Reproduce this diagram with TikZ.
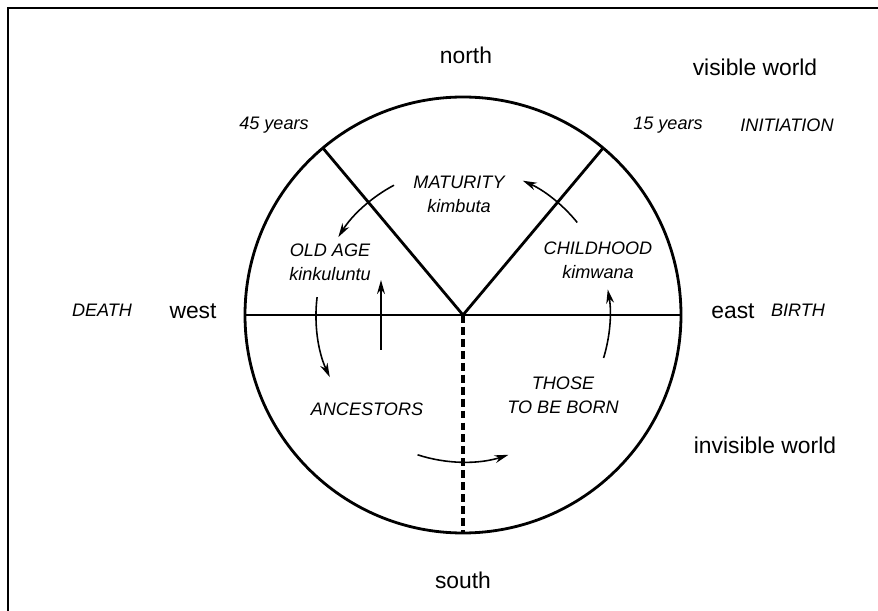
\documentclass[tikz,border=0pt]{standalone}
\usepackage{fontspec}
\setmainfont{Liberation Sans}
\usetikzlibrary{arrows.meta}

\begin{document}
\begin{tikzpicture}[
    x=0.02cm, y=0.02cm,
    frame_line/.style={line width=0.8pt},
    rim/.style={line width=1.6pt},
    divider/.style={line width=1.6pt},
    cycle_arrow/.style={line width=0.9pt, -{Stealth[length=8pt, width=4.5pt]}},
    compass/.style={font=\fontsize{13}{15}\selectfont, inner sep=0pt},
    stage/.style={font=\fontsize{10.3}{13.6}\selectfont\itshape, inner sep=0pt, align=center}
]
    \useasboundingbox (-463,-296) rectangle (415,315);

    % ================= FRAME =================
    \coordinate (frameBL) at (-455,-296);
    \coordinate (frameTL) at (-455,307);
    \coordinate (frameTR) at (415,307);
    \draw[frame_line] (frameBL) -- (frameTL) -- (frameTR);

    % ================= CIRCLE AND SECTORS =================
    \coordinate (O) at (0,0);
    \coordinate (W) at (180:218);
    \coordinate (E) at (0:218);
    \coordinate (S) at (270:218);
    \coordinate (NW) at (130:218);
    \coordinate (NE) at (50:218);

    \draw[rim] (O) circle[radius=218];
    \draw[divider] (W) -- (E);
    \draw[divider] (NW) -- (O) -- (NE);
    \draw[divider, line width=1.9pt, dash pattern=on 4.5pt off 2.3pt] (O) -- (S);

    % ================= COMPASS POINTS =================
    \node[compass] (north) at (3,260) {north};
    \node[compass] (south) at (0,-265) {south};
    \node[compass] (west) at (-270,4) {west};
    \node[compass] (east) at (270,4) {east};
    \node[compass] (visible) at (292,248) {visible world};
    \node[compass] (invisible) at (302,-130) {invisible world};

    \node[stage] (death) at (-361,5) {DEATH};
    \node[stage] (birth) at (335,5) {BIRTH};
    \node[stage] (fortyfive) at (-189,190) {45 years};
    \node[stage] (fifteen) at (205,190) {15 years};
    \node[stage] (initiation) at (324,190) {INITIATION};

    % ================= STAGES OF LIFE =================
    \node[stage] (maturity) at (-4,121) {MATURITY\\kimbuta};
    \node[stage] (oldage) at (-133,53) {OLD AGE\\kinkuluntu};
    \node[stage] (childhood) at (135,55) {CHILDHOOD\\kimwana};
    \node[stage] (unborn) at (100,-80) {THOSE\\TO BE BORN};
    \node[stage] (ancestors) at (-96,-94) {ANCESTORS};

    % ================= CYCLE =================
    \draw[cycle_arrow] (O) ++(-17:147) arc[start angle=-17, end angle=10, radius=147];
    \draw[cycle_arrow] (O) ++(39:147) arc[start angle=39, end angle=66, radius=147];
    \draw[cycle_arrow] (O) ++(118:147) arc[start angle=118, end angle=148, radius=147];
    \draw[cycle_arrow] (O) ++(173:147) arc[start angle=173, end angle=205, radius=147];
    \draw[cycle_arrow] (O) ++(252:147) arc[start angle=252, end angle=288, radius=147];

    \coordinate (upfoot) at (-82,-35);
    \coordinate (uptip) at (-82,35);
    \draw[cycle_arrow] (upfoot) -- (uptip);

\end{tikzpicture}
\end{document}
